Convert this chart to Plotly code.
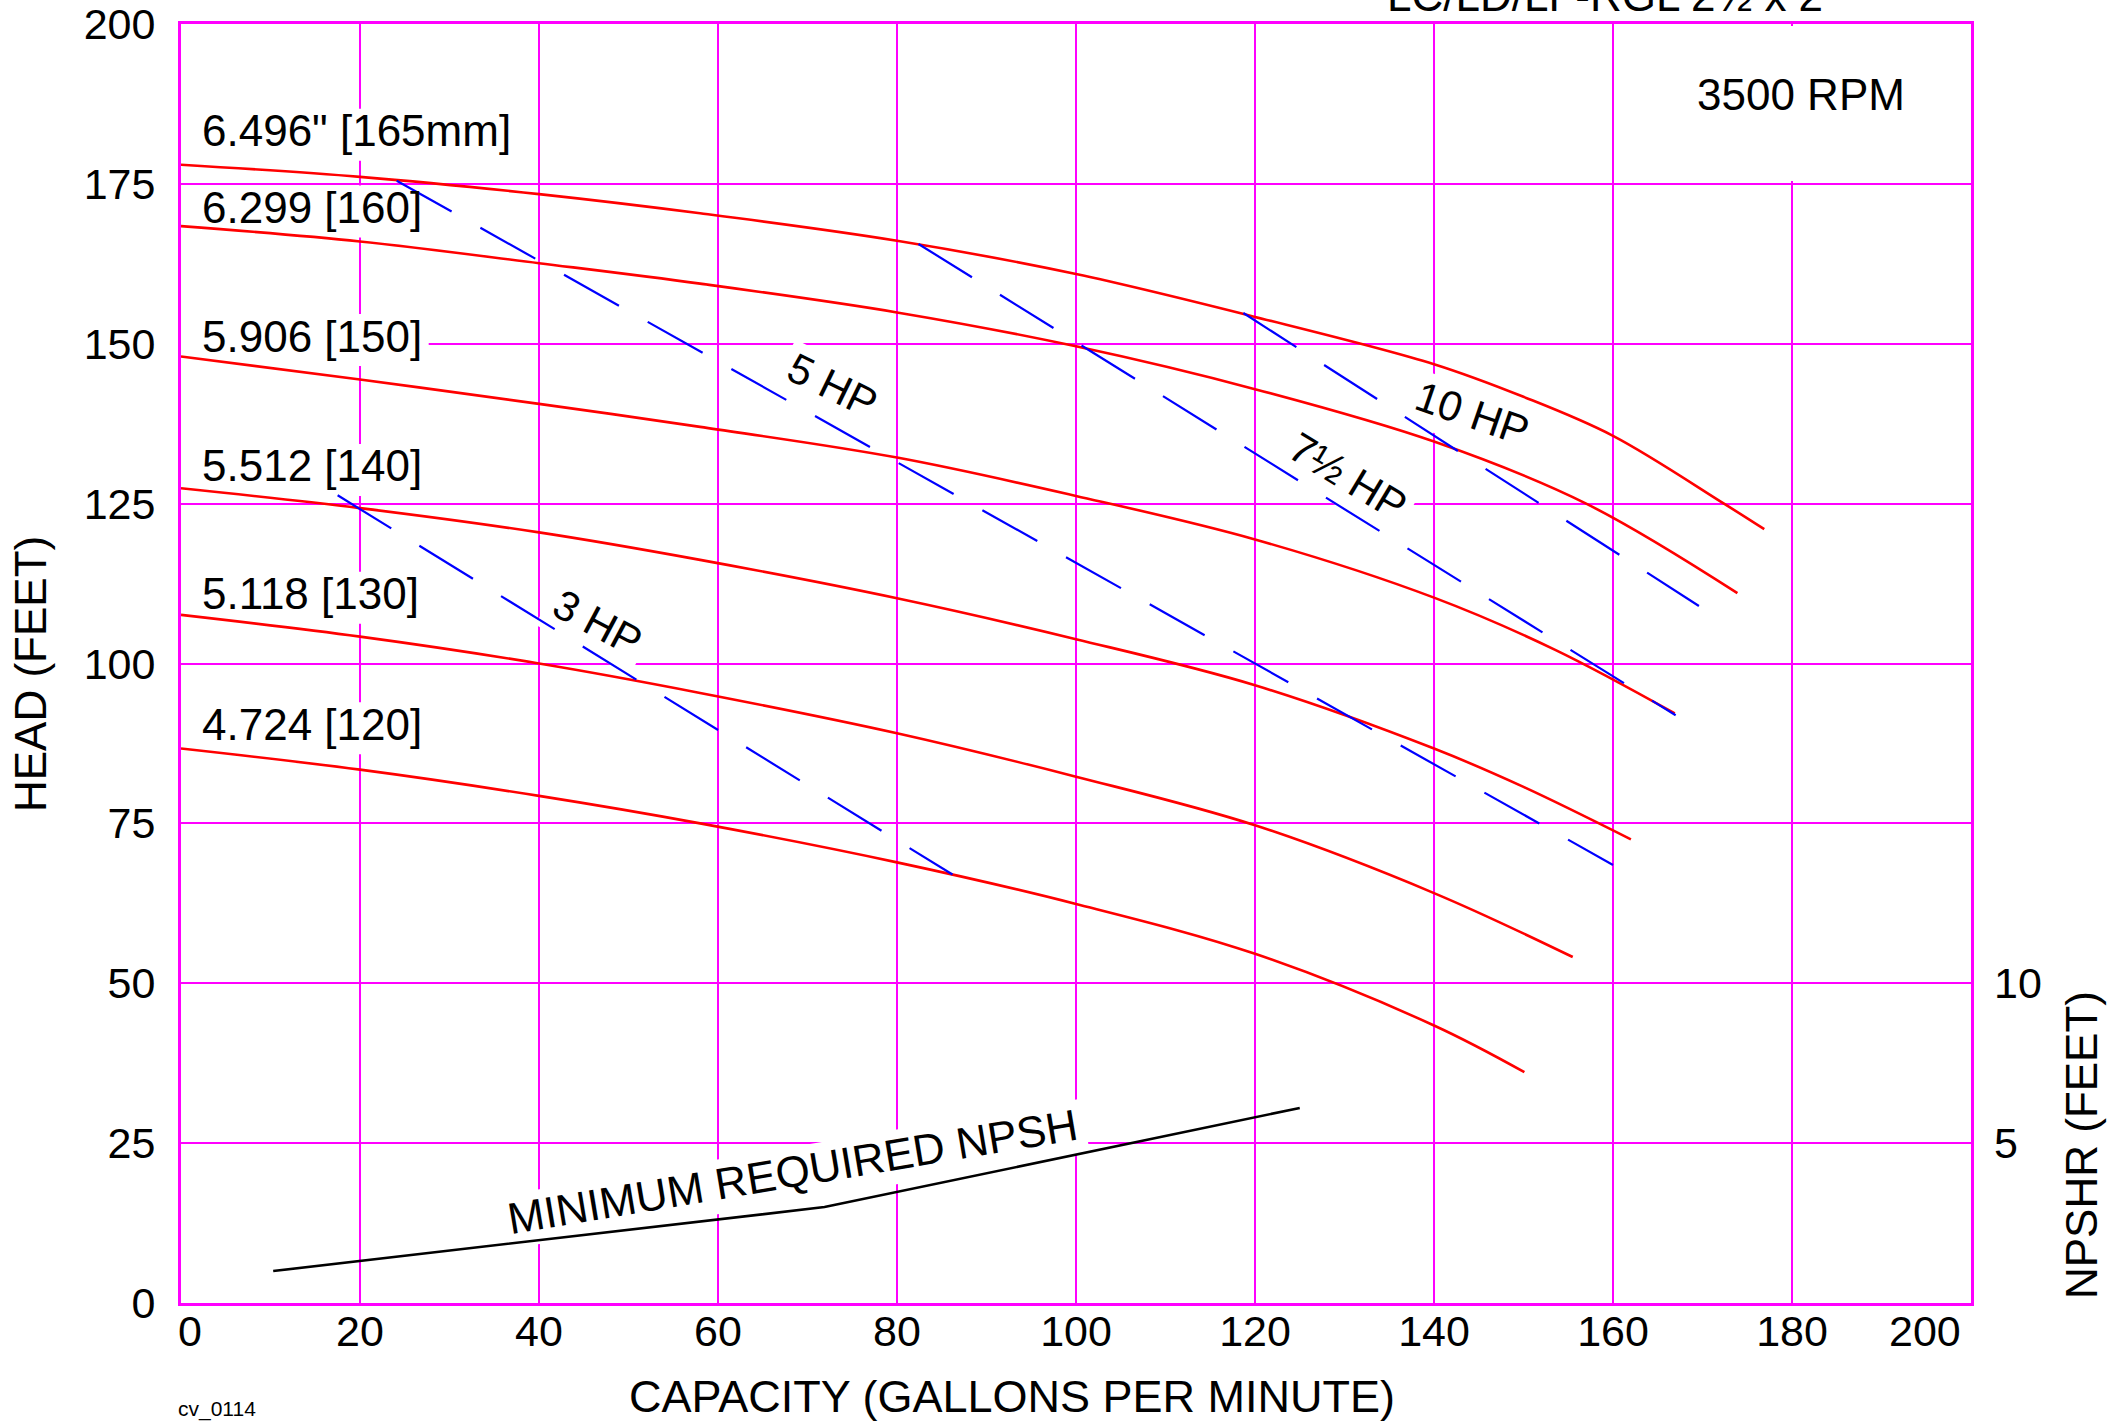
import math
import plotly.graph_objects as go

# ---------------- data ----------------
# Impeller head curves: capacity (GPM) vs head (ft)
flow_165 = [0, 20, 40, 58, 80, 100, 120, 140, 150, 160, 172.4, 176.9]
head_165 = [178.0, 176.1, 173.4, 170.4, 166.1, 160.9, 154.2, 146.8, 141.7, 135.6, 125.0, 121.0]

flow_160 = [0, 20, 40, 58, 80, 100, 120, 140, 157, 173.9]
head_160 = [168.4, 166.0, 162.6, 159.4, 154.9, 149.6, 142.9, 134.7, 125.0, 111.0]

flow_150 = [0, 20, 40, 58, 80, 100, 120, 140, 153.6, 166.9]
head_150 = [148.0, 144.4, 140.6, 137.0, 132.2, 126.2, 119.4, 110.3, 102.1, 92.2]

flow_140 = [0, 20, 40, 58, 80, 100, 120, 140, 150, 162]
head_140 = [127.4, 124.3, 120.5, 116.2, 110.2, 103.8, 96.6, 86.7, 80.7, 72.5]

flow_130 = [0, 20, 40, 58, 80, 100, 120, 140, 155.5]
head_130 = [107.6, 104.2, 100.0, 95.4, 89.1, 82.3, 74.7, 64.1, 54.1]

flow_120 = [0, 20, 40, 58, 80, 100, 120, 140, 150.1]
head_120 = [86.7, 83.4, 79.3, 75.0, 68.9, 62.4, 54.6, 43.4, 36.1]

curve_labels = ['6.496" [165mm]', '6.299 [160]', '5.906 [150]',
                '5.512 [140]', '5.118 [130]', '4.724 [120]']
curve_label_heads = [183.3, 171.3, 151.2, 130.9, 110.9, 90.5]

# Horsepower lines (dashed)
hp_names = ["3 HP", "5 HP", "7½ HP", "10 HP"]
hp_flow = [[17.5, 86.2], [24.1, 160.0], [82.4, 167.0], [118.7, 169.6]]
hp_head = [[126.3, 67.0], [175.5, 68.5], [165.6, 91.9], [154.8, 109.0]]
hp_label_flow = [46.5, 72.8, 130.4, 144.3]
hp_label_head = [106.4, 143.5, 129.3, 139.1]
hp_label_angle = [28, 26, 31, 19]

# Minimum required NPSH (ft)
npsh_flow = [10.3, 71.9, 125.0]
npsh_ft = [1.0, 3.0, 6.1]

x_ticks = [20, 40, 60, 80, 100, 120, 140, 160, 180]
y_ticks = [0, 25, 50, 75, 100, 125, 150, 175, 200]
npsh_ticks = [5, 10]

# ---------------- layout constants ----------------
W, H = 2112, 1421
ML, MR, MT, MB = 181, 141, 24, 118
PW, PH = W - ML - MR, H - MT - MB
KX, KY = PW / 200.0, PH / 200.0          # px per GPM, px per ft
FONT = "Liberation Sans, Arial, Helvetica, sans-serif"
MAG = "#FF00FF"
RED = "#FF0000"
BLUE = "#0000FF"


def px_x(px):
    return (px - ML) / PW


def px_y(py):
    return (H - MB - py) / PH


def mask_path(xc, yc, w, h, ang, dv=0.0):
    t = math.radians(ang)
    pts = []
    for u, v in [(-w / 2, -h / 2), (w / 2, -h / 2), (w / 2, h / 2), (-w / 2, h / 2)]:
        v2 = v + dv
        dx = u * math.cos(t) - v2 * math.sin(t)
        dy = u * math.sin(t) + v2 * math.cos(t)
        pts.append((xc + dx / KX, yc - dy / KY))
    return "M " + " L ".join(f"{a:.3f},{b:.3f}" for a, b in pts) + " Z"


fig = go.Figure()

curves = [(flow_165, head_165), (flow_160, head_160), (flow_150, head_150),
          (flow_140, head_140), (flow_130, head_130), (flow_120, head_120)]
for (fx, hy), name in zip(curves, curve_labels):
    fig.add_trace(go.Scatter(x=fx, y=hy, mode="lines", name=name,
                             line=dict(color=RED, width=2.6, shape="spline", smoothing=1.0),
                             hoverinfo="skip"))

for name, fx, hy in zip(hp_names, hp_flow, hp_head):
    fig.add_trace(go.Scatter(x=fx, y=hy, mode="lines", name=name,
                             line=dict(color=BLUE, width=2.2, dash="63px,33px"),
                             hoverinfo="skip"))

fig.add_trace(go.Scatter(x=npsh_flow, y=npsh_ft, mode="lines", name="NPSHR",
                         yaxis="y2", line=dict(color="black", width=2.6),
                         hoverinfo="skip"))

shapes = []
annotations = []

# curve labels (horizontal) + white masks that hide gridlines behind them
label_x = 2.2
label_w_px = [309, 220, 220, 220, 220, 220]
for text, hd, wpx in zip(curve_labels, curve_label_heads, label_w_px):
    annotations.append(dict(x=label_x, y=hd, xref="x", yref="y", text=text,
                            showarrow=False, xanchor="left", yanchor="middle",
                            borderpad=0, font=dict(size=44, color="black")))
    shapes.append(dict(type="rect", xref="x", yref="y", layer="between",
                       x0=0, x1=label_x + (wpx + 8) / KX,
                       y0=hd - 30 / KY, y1=hd + 22 / KY,
                       fillcolor="white", line=dict(width=0)))

# HP labels
hp_w_px = [93, 93, 128, 117]
for text, fx, hy, ang, wpx in zip(hp_names, hp_label_flow, hp_label_head, hp_label_angle, hp_w_px):
    annotations.append(dict(x=fx, y=hy, xref="x", yref="y", text=text, showarrow=False,
                            textangle=ang, xanchor="center", yanchor="middle",
                            font=dict(size=42, color="black")))
    shapes.append(dict(type="path", xref="x", yref="y", layer="between",
                       path=mask_path(fx, hy, wpx + 14, 56, ang, dv=3),
                       fillcolor="white", line=dict(width=0)))

# NPSH label
npsh_lab_x, npsh_lab_y, npsh_ang = 68.3, 20.6, -9.5
annotations.append(dict(x=npsh_lab_x, y=npsh_lab_y, xref="x", yref="y",
                        text="MINIMUM REQUIRED NPSH", showarrow=False,
                        textangle=npsh_ang, xanchor="center", yanchor="middle",
                        font=dict(size=44, color="black")))
shapes.append(dict(type="path", xref="x", yref="y", layer="between",
                   path=mask_path(npsh_lab_x, npsh_lab_y, 577 + 16, 54, npsh_ang, dv=3),
                   fillcolor="white", line=dict(width=0)))

# 3500 RPM box
annotations.append(dict(x=181, y=188.9, xref="x", yref="y", text="3500 RPM",
                        showarrow=False, xanchor="center", yanchor="middle",
                        font=dict(size=44, color="black")))
shapes.append(dict(type="rect", xref="x", yref="y", layer="between",
                   x0=166, x1=199.7, y0=175.45, y1=199.7,
                   fillcolor="white", line=dict(width=0)))

# end x tick labels (shifted inside like the reference)
tick_y = px_y(1331)
annotations.append(dict(x=1.0, y=tick_y, xref="x", yref="paper", text="0", showarrow=False,
                        xanchor="center", yanchor="middle", font=dict(size=43)))
annotations.append(dict(x=199.1, y=tick_y, xref="x", yref="paper", text="200", showarrow=False,
                        xanchor="right", yanchor="middle", font=dict(size=43)))

# axis titles & misc text
annotations += [
    dict(x=px_x(1012), y=px_y(1396), xref="paper", yref="paper",
         text="CAPACITY (GALLONS PER MINUTE)", showarrow=False,
         xanchor="center", yanchor="middle", font=dict(size=45)),
    dict(x=px_x(30), y=px_y(674), xref="paper", yref="paper", text="HEAD (FEET)",
         textangle=-90, showarrow=False, xanchor="center", yanchor="middle",
         font=dict(size=44)),
    dict(x=px_x(2081), y=px_y(1145), xref="paper", yref="paper", text="NPSHR (FEET)",
         textangle=-90, showarrow=False, xanchor="center", yanchor="middle",
         font=dict(size=44)),
    dict(x=px_x(176), y=px_y(1409), xref="paper", yref="paper", text="cv_0114",
         xanchor="left", yanchor="middle", showarrow=False, font=dict(size=21)),
    dict(x=px_x(1605), y=px_y(22), xref="paper", yref="paper", text="LC/LD/LF-RGL 2½ x 2",
         xanchor="center", yanchor="bottom", showarrow=False, font=dict(size=44)),
]

fig.update_layout(
    width=W, height=H,
    margin=dict(l=ML, r=MR, t=MT, b=MB, autoexpand=False),
    paper_bgcolor="white", plot_bgcolor="white",
    showlegend=False,
    font=dict(family=FONT, color="black"),
    shapes=shapes, annotations=annotations,
    xaxis=dict(range=[0, 200], tickvals=x_ticks, ticktext=[str(v) for v in x_ticks],
               showgrid=True, gridcolor=MAG, gridwidth=2,
               showline=True, linecolor=MAG, linewidth=3, mirror=True,
               zeroline=False, ticks="", tickfont=dict(size=43), ticklabelstandoff=-12,
               fixedrange=True),
    yaxis=dict(range=[0, 200], tickvals=y_ticks, ticktext=[str(v) for v in y_ticks],
               showgrid=True, gridcolor=MAG, gridwidth=2,
               showline=True, linecolor=MAG, linewidth=3, mirror=True,
               zeroline=False, ticks="", tickfont=dict(size=43), ticklabelstandoff=14,
               fixedrange=True),
    yaxis2=dict(range=[0, 40], overlaying="y", side="right", tickvals=npsh_ticks,
                ticktext=[str(v) for v in npsh_ticks], showgrid=False, zeroline=False,
                showline=False, ticks="", tickfont=dict(size=43), ticklabelstandoff=22,
                fixedrange=True),
)

fig.write_html("out.html", config={"displayModeBar": False},
               post_script="document.body.style.margin='0px';document.body.style.padding='0px';")
